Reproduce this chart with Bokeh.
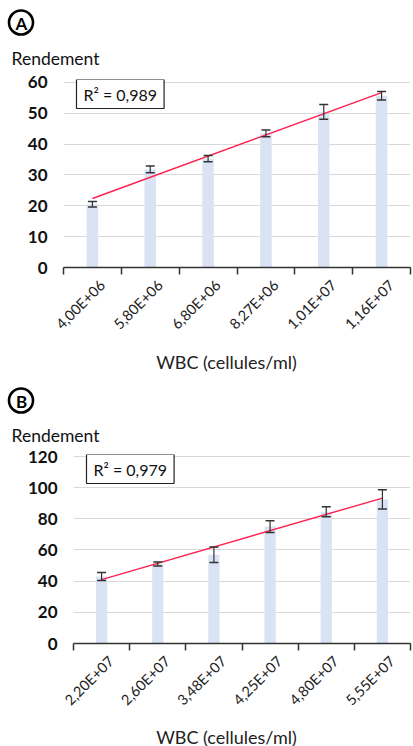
import numpy as np
from bokeh.plotting import figure
from bokeh.models import (ColumnDataSource, Whisker, TeeHead, Label, FixedTicker,
                          Range1d)
from bokeh.core.properties import value
from bokeh.layouts import column
from bokeh.embed import file_html
from bokeh.resources import INLINE

# ---------------- data ----------------
labels_a = ["4,00E+06", "5,80E+06", "6,80E+06", "8,27E+06", "1,01E+07", "1,16E+07"]
values_a = [20.5, 31.8, 35.3, 43.5, 50.5, 55.7]
errors_a = [0.9, 1.1, 1.0, 1.1, 2.4, 1.4]
r2_a = "R² = 0,989"

labels_b = ["2,20E+07", "2,60E+07", "3,48E+07", "4,25E+07", "4,80E+07", "5,55E+07"]
values_b = [43.0, 51.0, 57.0, 75.0, 84.5, 92.5]
errors_b = [2.5, 1.3, 5.0, 3.8, 3.2, 6.2]
r2_b = "R² = 0,979"

y_label = "Rendement"
x_label = "WBC (cellules/ml)"

FONT = "Lato"
BAR = "#dae3f3"
RED = "#ff1f4f"
W = 413


def blank(height):
    """A plain drawing strip (frame = whole figure, y pointing down)."""
    p = figure(width=W, height=height, output_backend="svg", toolbar_location=None,
               x_range=Range1d(0, W), y_range=Range1d(height, 0),
               x_axis_type=None, y_axis_type=None, frame_align=False,
               min_border_left=0, min_border_right=0, min_border_top=0,
               min_border_bottom=0)
    p.outline_line_color = None
    p.grid.grid_line_color = None
    return p


def header(letter, height, cy_letter, cy_title):
    h = blank(height)
    h.scatter([20.5], [cy_letter], marker="circle", size=24, fill_color=None,
              line_color="black", line_width=2.6)
    h.text([21], [cy_letter + 0.5], text=[letter], text_font=value(FONT),
           text_font_style="bold", text_font_size="17px", text_color="black",
           text_align="center", text_baseline="middle")
    h.text([11], [cy_title], text=[y_label], text_font=value(FONT),
           text_font_size="17.5px", text_color="#111111",
           text_align="left", text_baseline="middle")
    return h


def footer(height, cy):
    f = blank(height)
    f.text([226], [cy], text=[x_label], text_font=value(FONT),
           text_font_size="18px", text_color="#222222",
           text_align="center", text_baseline="middle")
    return f


def chart(labels, values, errors, r2, ymax, ystep, pad_units, left, top, frame_h, bottom):
    n = len(labels)
    xs = list(range(1, n + 1))
    height = top + frame_h + bottom
    p = figure(width=W, height=height, output_backend="svg", toolbar_location=None,
               x_range=Range1d(0.5, n + 0.5), y_range=Range1d(0, ymax + pad_units),
               frame_align=False,
               min_border_left=left, min_border_right=3, min_border_top=top,
               min_border_bottom=bottom)
    p.outline_line_color = None

    ticks = list(range(0, ymax + 1, ystep))
    p.xgrid.grid_line_color = None
    p.ygrid.grid_line_color = "#d9d9d9"
    p.ygrid.grid_line_width = 1
    p.ygrid.ticker = FixedTicker(ticks=ticks)

    p.yaxis.ticker = FixedTicker(ticks=ticks)
    p.yaxis.axis_line_color = None
    p.yaxis.major_tick_line_color = None
    p.yaxis.minor_tick_line_color = None
    p.yaxis.major_tick_out = 0
    p.yaxis.major_tick_in = 0
    p.yaxis.minor_tick_out = 0
    p.yaxis.major_label_text_font = FONT
    p.yaxis.major_label_text_font_style = "bold"
    p.yaxis.major_label_text_font_size = "17px"
    p.yaxis.major_label_text_color = "#111111"
    p.yaxis.major_label_standoff = 16

    shift = 0.17
    p.xaxis.ticker = FixedTicker(ticks=[x + shift for x in xs],
                                 minor_ticks=[x - 0.5 for x in xs] + [n + 0.5])
    p.xaxis.major_label_overrides = {x + shift: l for x, l in zip(xs, labels)}
    p.xaxis.major_label_orientation = np.pi / 4
    p.xaxis.major_label_text_font = FONT
    p.xaxis.major_label_text_font_size = "14.5px"
    p.xaxis.major_label_text_color = "#222222"
    p.xaxis.major_label_standoff = 8
    p.xaxis.major_tick_in = 0
    p.xaxis.major_tick_out = 0
    p.xaxis.minor_tick_in = 0
    p.xaxis.minor_tick_out = 7
    p.xaxis.minor_tick_line_color = "#333333"
    p.xaxis.minor_tick_line_width = 1.5
    p.xaxis.axis_line_color = "#333333"
    p.xaxis.axis_line_width = 1.5

    src = ColumnDataSource(dict(x=xs, top=values,
                                upper=[v + e for v, e in zip(values, errors)],
                                lower=[v - e for v, e in zip(values, errors)]))
    p.vbar(x="x", top="top", width=0.2, source=src, fill_color=BAR, line_color=None)

    w = Whisker(base="x", upper="upper", lower="lower", source=src, level="overlay",
                line_color="#333333", line_width=1.2,
                upper_head=TeeHead(size=9, line_color="#333333", line_width=1.5),
                lower_head=TeeHead(size=9, line_color="#333333", line_width=1.5))
    p.add_layout(w)

    # linear trendline (least squares on category index)
    k, b = np.polyfit(xs, values, 1)
    p.line([xs[0], xs[-1]], [k * xs[0] + b, k * xs[-1] + b], line_color=RED, line_width=1.4)

    # R2 box (screen units are relative to the frame)
    p.add_layout(Label(x=13, y=frame_h, x_units="screen", y_units="screen",
                       text=r2, text_font=FONT, text_font_size="16px",
                       text_color="#111111", anchor="top_left",
                       background_fill_color="white", border_line_color="#222222",
                       border_line_width=1.2, padding=(7, 5)))
    return p


# panel A: page 0..373
ha = header("A", 70, 22, 58)
pa = chart(labels_a, values_a, errors_a, r2_a, 60, 10, 0.97, 63, 9, 188, 84)   # 70..351
fa = footer(22, 10)                                                           # 351..373
# panel B: page 373..746
hb = header("B", 72, 27, 62)
pb = chart(labels_b, values_b, errors_b, r2_b, 120, 20, 1.28, 73, 9, 189, 84)  # 445..727
fb = footer(19, 9)                                                            # 727..746

layout = column(ha, pa, fa, hb, pb, fb, spacing=0)
open("out.html", "w").write(file_html(layout, INLINE))
